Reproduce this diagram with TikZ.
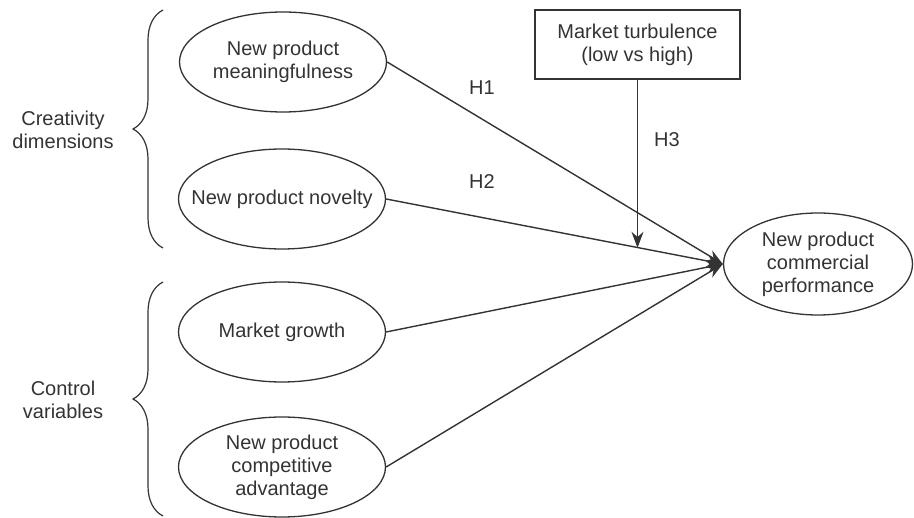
\documentclass[tikz,border=0pt]{standalone}
\usepackage{fontspec}
\setmainfont{Liberation Sans}
\usetikzlibrary{shapes.geometric,arrows.meta,decorations.pathreplacing}
\definecolor{ink}{HTML}{333333}
\tikzset{
	construct/.style={draw=ink,ellipse,line width=1.3pt,minimum width=207pt,minimum height=100pt,inner sep=0pt,
		label={[text=ink,align=center]center:{#1}}},
	moderator/.style={draw=ink,rectangle,line width=1.3pt,minimum width=205pt,minimum height=69pt,inner sep=0pt,align=center,text=ink},
	link/.style={draw=ink,line width=1.4pt,-{Stealth[length=16pt,width=12pt]}},
	bracket/.style={draw=ink,line width=1.2pt,decorate,decoration={brace,amplitude=30pt}},
	hyp/.style={text=ink},
	group/.style={text=ink,align=center}
}
\begin{document}
\begin{tikzpicture}[x=1pt,y=-1pt,font=\fontsize{20}{23}\selectfont]
	\useasboundingbox (0,0) rectangle (914,518);
	%creativity dimensions
	\node[construct={New product\\meaningfulness}] (mean) at (283,62) {};
	\node[construct={New product novelty}] (nov) at (282,199) {};
	%control variables
	\node[construct={Market growth}] (growth) at (282,332) {};
	\node[construct={New product\\competitive\\advantage}] (adv) at (282,467) {};
	%outcome
	\node[construct={New product\\commercial\\performance},minimum width=189pt,minimum height=102pt] (perf) at (818,264) {};
	%moderator
	\node[moderator] (turb) at (637.5,44.5) {Market turbulence\\(low vs high)};

	%brackets
	\draw[bracket] (163,248) -- (163,10);
	\draw[bracket] (163,516) -- (163,282);
	\node[group] (crea) at (63,130) {Creativity\\dimensions};
	\node[group] (ctrl) at (63,400) {Control\\variables};

	%paths
	\draw[link] (mean.east) -- (perf.west);
	\draw[link] (nov.east) -- (perf.west);
	\draw[link] (growth.east) -- (perf.west);
	\draw[link] (adv.east) -- (perf.west);
	\path (nov.east) -- (perf.west) coordinate[pos=0.751] (h3end);
	\draw[link] (turb.south) -- (turb.south |- h3end);

	%labels
	\node[hyp] (h1) at (482,88) {H1};
	\node[hyp] (h2) at (482,182) {H2};
	\node[hyp] (h3) at (667,140) {H3};
\end{tikzpicture}
\end{document}
